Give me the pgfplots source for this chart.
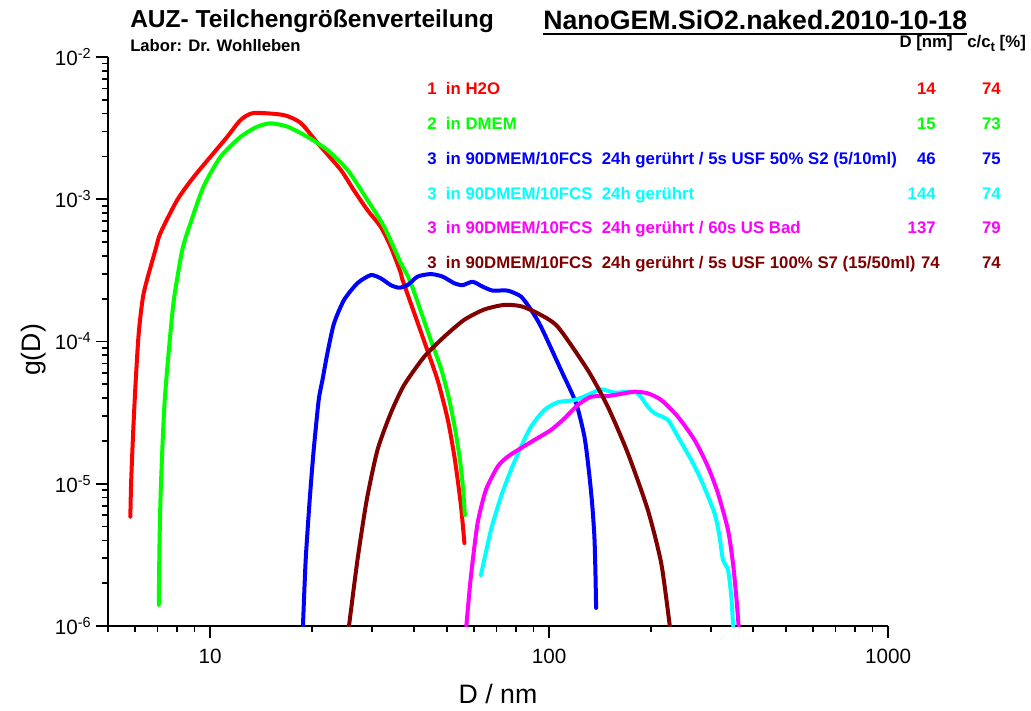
\documentclass[border=0pt]{standalone}
\usepackage{fontspec}
\setmainfont{Liberation Sans}
\usepackage{pgfplots}
\pgfplotsset{compat=1.18}

\definecolor{cRed}{RGB}{255,0,0}
\definecolor{cGreen}{RGB}{0,255,0}
\definecolor{cBlue}{RGB}{0,0,255}
\definecolor{cCyan}{RGB}{0,255,255}
\definecolor{cMag}{RGB}{255,0,255}
\definecolor{cMaroon}{RGB}{128,0,0}

\newcommand\lgd{\fontsize{12.6}{15}\selectfont\bfseries}

\begin{document}
\begin{tikzpicture}
% page = 1031 x 710 px, 1 px = 0.75pt, axis box lower left at px (108,626)
\path[use as bounding box] (-81pt,-63pt) rectangle (692.25pt,469.5pt);
\begin{axis}[
    at={(0,0)}, anchor=south west,
    scale only axis, width=585pt, height=426.75pt,
    xmode=log, ymode=log,
    xmin=5, xmax=1000, ymin=1e-6, ymax=1e-2,
    axis x line*=bottom, axis y line*=left,
    axis line style={-, line width=1.5pt, black},
    tick align=outside,
    major tick length=9pt, minor tick length=4.5pt,
    tick style={black, line width=1.3pt},
    xtick={10,100,1000}, xticklabels={10,100,1000},
    minor xtick={5,6,7,8,9,20,30,40,50,60,70,80,90,200,300,400,500,600,700,800,900},
    ytick={1e-6,1e-5,1e-4,1e-3,1e-2},
    yticklabels={10\textsuperscript{-6},10\textsuperscript{-5},10\textsuperscript{-4},10\textsuperscript{-3},10\textsuperscript{-2}},
    minor ytick={2e-6,3e-6,4e-6,5e-6,6e-6,7e-6,8e-6,9e-6,
                 2e-5,3e-5,4e-5,5e-5,6e-5,7e-5,8e-5,9e-5,
                 2e-4,3e-4,4e-4,5e-4,6e-4,7e-4,8e-4,9e-4,
                 2e-3,3e-3,4e-3,5e-3,6e-3,7e-3,8e-3,9e-3},
    ticklabel style={font=\fontsize{15.5}{18}\selectfont},
    xticklabel style={yshift=-5pt},
    every axis plot/.append style={line width=3pt, smooth, tension=0.4, line cap=round, line join=round},
  ]
  % 1 in H2O
  \addplot[cRed] coordinates {
    (5.82,5.87e-6)(5.85,1.01e-5)(5.93,2.26e-5)(6.03,5.08e-5)(6.16,1.14e-4)(6.37,2.18e-4)
    (6.90,4.40e-4)(7.14,5.79e-4)(8.00,9.88e-4)(8.94,1.43e-3)(10.24,2.11e-3)(11.24,2.75e-3)
    (12.31,3.61e-3)(13.44,4.04e-3)(16.49,3.91e-3)(18.51,3.44e-3)(20.74,2.49e-3)(24.30,1.61e-3)
    (26.54,1.16e-3)(29.13,8.40e-4)(31.90,6.38e-4)(34.14,4.62e-4)(36.54,3.03e-4)(37.04,2.68e-4)
    (42.73,1.02e-4)(46.90,5.36e-5)(50.29,2.81e-5)(52.77,1.47e-5)(54.95,7.09e-6)(56.29,3.83e-6)
  };
  % 2 in DMEM
  \addplot[cGreen] coordinates {
    (7.06,1.41e-6)(7.09,3.42e-6)(7.14,7.69e-6)(7.23,1.73e-5)(7.35,3.88e-5)(7.56,8.71e-5)
    (7.82,1.96e-4)(8.28,4.40e-4)(8.76,6.81e-4)(9.57,1.23e-3)(10.74,1.99e-3)(12.31,2.75e-3)
    (13.79,3.24e-3)(15.09,3.42e-3)(16.91,3.24e-3)(19.37,2.75e-3)(22.19,2.22e-3)(25.43,1.61e-3)
    (29.13,9.88e-4)(32.63,6.41e-4)(36.54,3.56e-4)(39.11,2.58e-4)(44.81,1.02e-4)(47.96,6.51e-5)
    (50.64,4.01e-5)(52.77,2.46e-5)(54.60,1.47e-5)(55.71,9.49e-6)(56.47,6.03e-6)
  };
  % 3 ... USF 50% S2
  \addplot[cBlue] coordinates {
    (18.80,1.00e-6)(19.15,2.91e-6)(19.68,7.69e-6)(20.22,1.73e-5)(20.92,3.88e-5)(21.46,5.36e-5)
    (22.19,8.26e-5)(23.21,1.34e-4)(24.85,1.96e-4)(27.22,2.57e-4)(29.80,2.93e-4)(31.90,2.78e-4)
    (34.14,2.49e-4)(36.12,2.39e-4)(38.24,2.49e-4)(40.94,2.86e-4)(44.81,2.98e-4)(48.53,2.86e-4)
    (52.52,2.57e-4)(55.60,2.49e-4)(59.52,2.63e-4)(63.71,2.43e-4)(68.20,2.28e-4)(75.51,2.28e-4)
    (82.67,2.07e-4)(88.49,1.67e-4)(94.71,1.27e-4)(108.5,6.30e-5)(120.2,3.68e-5)(127.2,2.14e-5)
    (131.0,1.25e-5)(134.0,7.29e-6)(136.1,4.24e-6)(137.0,2.48e-6)(137.7,1.34e-6)
  };
  % 3 ... 24h geruehrt
  \addplot[cCyan] coordinates {
    (62.97,2.28e-6)(67.41,4.73e-6)(72.14,8.11e-6)(77.22,1.25e-5)(82.67,1.82e-5)(88.49,2.52e-5)
    (96.85,3.30e-5)(106.1,3.74e-5)(118.8,3.88e-5)(130.1,4.21e-5)(142.4,4.61e-5)(156.0,4.37e-5)
    (170.8,4.44e-5)(182.8,4.32e-5)(195.7,3.48e-5)(204.7,3.13e-5)(224.2,2.81e-5)(240.0,2.14e-5)
    (262.8,1.47e-5)(281.2,1.06e-5)(307.8,6.20e-6)(318.5,4.24e-6)(326.0,2.91e-6)(337.3,2.48e-6)
    (344.9,1.61e-6)(348.9,1.04e-6)(349.4,1.00e-6)
  };
  % 3 ... 60s US Bad
  \addplot[cMag] coordinates {
    (57.03,1.00e-6)(58.81,2.22e-6)(61.55,5.27e-6)(65.13,9.04e-6)(70.56,1.32e-5)(75.51,1.55e-5)
    (82.67,1.78e-5)(90.48,2.03e-5)(101.4,2.39e-5)(111.0,2.88e-5)(121.6,3.58e-5)(133.1,4.09e-5)
    (149.1,4.14e-5)(163.2,4.28e-5)(178.7,4.44e-5)(195.7,4.32e-5)(214.3,3.88e-5)(240.0,2.96e-5)
    (268.8,2.03e-5)(294.3,1.32e-5)(315.1,8.57e-6)(337.3,4.73e-6)(348.9,2.76e-6)(356.8,1.61e-6)
    (362.5,1.00e-6)
  };
  % 3 ... USF 100% S7
  \addplot[cMaroon] coordinates {
    (25.70,1.00e-6)(27.22,2.91e-6)(28.99,7.69e-6)(31.19,1.73e-5)(34.14,3.14e-5)(37.37,4.94e-5)
    (42.82,7.81e-5)(49.06,1.08e-4)(56.20,1.42e-4)(64.42,1.68e-4)(73.80,1.81e-4)(82.67,1.77e-4)
    (92.59,1.58e-4)(106.1,1.27e-4)(130.1,6.30e-5)(149.1,3.48e-5)(170.8,1.64e-5)
    (195.7,6.54e-6)(214.3,2.76e-6)(226.7,1.04e-6)(227.5,1.00e-6)
  };
\end{axis}

% annotations, in reference pixel coordinates
\begin{scope}[shift={(-81pt,469.5pt)}, x=0.75pt, y=-0.75pt, every node/.style={inner sep=0pt}]
  \node[anchor=base west] at (130,28) {\fontsize{18.4}{22}\selectfont\bfseries AUZ- Teilchengrößenverteilung};
  \node[anchor=base west] at (130,52) {\fontsize{12.5}{15}\selectfont\bfseries Labor: Dr. Wohlleben};
  \node[anchor=base west] (ng) at (543,30) {\fontsize{20}{24}\selectfont\bfseries NanoGEM.SiO2.naked.2010-10-18};
  \draw[line width=1.6pt] ([yshift=-2.8pt]ng.base west) -- ([yshift=-2.8pt]ng.base east);
  \node[anchor=base east] at (953,48) {\lgd D [nm]};
  \node[anchor=base west] at (967,48) {\lgd c/c\raisebox{-0.45ex}{\fontsize{10}{12}\selectfont t} [\%]};

  \node[anchor=base west, text=cRed] at (427,95) {\lgd 1\ \ in H2O};
  \node[anchor=base west, text=cGreen] at (427,129.7) {\lgd 2\ \ in DMEM};
  \node[anchor=base west, text=cBlue] at (427,164.4) {\lgd 3\ \ in 90DMEM/10FCS\ \ 24h gerührt / 5s USF 50\% S2 (5/10ml)};
  \node[anchor=base west, text=cCyan] at (427,199.1) {\lgd 3\ \ in 90DMEM/10FCS\ \ 24h gerührt};
  \node[anchor=base west, text=cMag] at (427,233.8) {\lgd 3\ \ in 90DMEM/10FCS\ \ 24h gerührt / 60s US Bad};
  \node[anchor=base west, text=cMaroon] at (427,268.5) {\lgd 3\ \ in 90DMEM/10FCS\ \ 24h gerührt / 5s USF 100\% S7 (15/50ml)};

  \node[anchor=base east, text=cRed] at (936,95) {\lgd 14};
  \node[anchor=base east, text=cGreen] at (936,129.7) {\lgd 15};
  \node[anchor=base east, text=cBlue] at (936,164.4) {\lgd 46};
  \node[anchor=base east, text=cCyan] at (936,199.1) {\lgd 144};
  \node[anchor=base east, text=cMag] at (936,233.8) {\lgd 137};
  \node[anchor=base east, text=cMaroon] at (940,268.5) {\lgd 74};

  \node[anchor=base east, text=cRed] at (1001,95) {\lgd 74};
  \node[anchor=base east, text=cGreen] at (1001,129.7) {\lgd 73};
  \node[anchor=base east, text=cBlue] at (1001,164.4) {\lgd 75};
  \node[anchor=base east, text=cCyan] at (1001,199.1) {\lgd 74};
  \node[anchor=base east, text=cMag] at (1001,233.8) {\lgd 79};
  \node[anchor=base east, text=cMaroon] at (1001,268.5) {\lgd 74};

  \node[anchor=base] at (498,703) {\fontsize{20}{24}\selectfont D / nm};
  \node[anchor=base, rotate=90] at (41,350) {\fontsize{20}{24}\selectfont g(D)};
\end{scope}
\end{tikzpicture}
\end{document}
